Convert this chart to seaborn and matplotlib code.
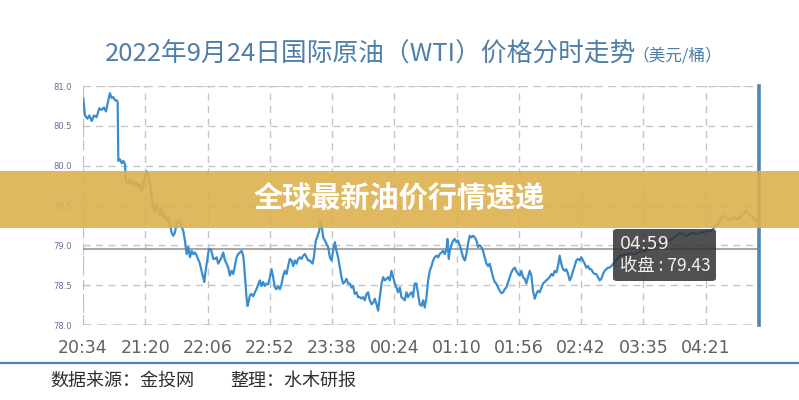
import numpy as np
import pandas as pd
import matplotlib
matplotlib.use("Agg")
import matplotlib.pyplot as plt
from matplotlib.patches import Rectangle, FancyBboxPatch
from matplotlib.lines import Line2D
import seaborn as sns

# ---------------- data (minutes since 20:34, price USD/bbl) ----------------
minutes = [0.2, 1.5, 3.2, 4.7, 6.4, 8.1, 10.1, 12.0, 13.8, 15.5, 17.0, 18.7, 19.9, 21.2, 22.4, 23.6,
           24.8, 25.6, 26.1, 27.3, 28.6, 29.8, 31.0, 31.8, 33.5, 34.7, 36.0, 37.2, 38.4, 39.6, 40.9,
           42.1, 43.3, 44.5, 45.8, 47.0, 48.2, 49.5, 50.7, 51.9, 53.2, 54.4, 55.6, 56.9, 58.1, 59.3,
           60.6, 61.8, 63.0, 64.2, 65.5, 66.7, 67.9, 69.2, 70.4, 71.6, 72.9, 74.1, 75.3, 76.6, 77.8,
           79.0, 80.3, 81.5, 82.7, 84.0, 86.4, 87.6, 88.8, 89.6, 90.6, 92.1, 93.0, 94.5, 95.5, 96.2,
           97.5, 98.7, 99.9, 101.2, 102.4, 103.6, 104.9, 106.1, 107.3, 108.5, 109.8, 111.0, 112.2,
           113.5, 114.7, 115.9, 117.2, 118.4, 119.1, 120.1, 120.8, 121.6, 122.6, 123.3, 124.5, 125.8,
           127.0, 128.2, 129.5, 130.7, 131.9, 133.1, 134.4, 135.6, 136.8, 138.1, 139.3, 140.5, 141.8,
           143.0, 144.2, 145.5, 146.7, 147.9, 149.2, 150.4, 151.6, 152.8, 154.1, 155.3, 156.5, 157.8,
           159.0, 160.2, 161.5, 162.7, 163.9, 165.2, 166.4, 167.6, 169.6, 170.6, 172.0, 173.0, 174.5,
           175.5, 176.5, 177.5, 178.7, 179.9, 181.1, 182.4, 183.6, 184.8, 186.1, 187.3, 188.5, 189.8,
           191.0, 192.2, 193.5, 194.7, 195.9, 197.2, 198.4, 199.6, 200.8, 202.1, 203.3, 204.5, 205.8,
           207.0, 208.2, 209.5, 210.7, 211.9, 213.2, 214.4, 215.6, 216.9, 218.1, 219.3, 220.6, 221.8,
           223.0, 224.2, 225.5, 226.7, 227.9, 229.2, 230.4, 231.6, 232.8, 234.1, 235.3, 236.5, 237.8,
           239.0, 240.2, 241.5, 242.7, 243.9, 245.1, 246.4, 247.6, 248.8, 250.1, 251.3, 252.5, 253.8,
           255.0, 256.2, 257.5, 258.7, 259.9, 261.2, 262.4, 263.6, 264.9, 266.1, 267.3, 268.6, 269.3,
           270.3, 271.0, 272.2, 273.5, 274.7, 275.9, 277.1, 278.4, 279.6, 280.8, 282.1, 283.3, 284.5,
           285.8, 287.0, 288.2, 289.5, 290.7, 291.9, 293.1, 294.4, 295.6, 296.8, 298.1, 299.3, 300.5,
           301.8, 303.0, 304.2, 305.4, 306.7, 307.9, 309.1, 310.4, 311.6, 312.8, 314.1, 315.3, 316.5,
           317.8, 319.0, 320.2, 321.5, 322.7, 323.9, 325.1, 326.4, 327.6, 328.8, 330.1, 331.3, 332.5,
           333.8, 335.0, 336.2, 337.5, 339.9, 342.4, 344.8, 346.1, 347.3, 348.5, 349.8, 351.0, 352.2,
           353.4, 354.7, 355.9, 357.1, 358.4, 359.6, 360.8, 362.1, 363.3, 364.5, 365.8, 367.0, 368.2,
           369.4, 370.7, 371.9, 373.1, 374.4, 375.6, 376.8, 378.1, 379.3, 380.5, 381.8, 383.0, 384.2,
           385.4, 386.7, 387.9, 389.1, 390.4, 392.8, 396.5, 400.2, 403.9, 407.6, 411.3, 415.0, 418.7,
           422.4, 426.1, 429.8, 433.5, 437.2, 440.8, 443.3, 445.8, 448.2, 450.7, 453.2, 455.6, 458.1,
           460.6, 464.2, 466.7, 467.9, 469.2, 471.6, 474.1, 476.5, 479.0, 481.4, 483.9, 486.3, 488.8,
           490.0, 492.5, 494.9, 497.4]

prices = [80.84, 80.63, 80.59, 80.63, 80.56, 80.63, 80.61, 80.72, 80.70, 80.73, 80.68, 80.82, 80.91,
          80.85, 80.86, 80.82, 80.82, 80.80, 80.06, 80.08, 80.03, 80.06, 80.02, 79.81, 79.77, 79.83,
          79.77, 79.81, 79.75, 79.79, 79.73, 79.77, 79.69, 79.75, 79.87, 79.93, 79.87, 79.77, 79.60,
          79.48, 79.41, 79.52, 79.43, 79.37, 79.46, 79.35, 79.37, 79.31, 79.35, 79.27, 79.16, 79.12,
          79.16, 79.27, 79.31, 79.29, 79.23, 79.18, 79.06, 78.89, 78.98, 78.85, 78.93, 78.89, 78.91,
          78.87, 78.77, 78.68, 78.60, 78.54, 78.68, 78.85, 78.95, 78.95, 78.89, 78.83, 78.83, 78.85,
          78.77, 78.81, 78.85, 78.91, 78.81, 78.77, 78.72, 78.62, 78.68, 78.64, 78.74, 78.85, 78.89,
          78.91, 78.93, 78.87, 78.74, 78.51, 78.35, 78.24, 78.31, 78.37, 78.39, 78.36, 78.41, 78.45,
          78.51, 78.56, 78.49, 78.54, 78.49, 78.52, 78.51, 78.60, 78.70, 78.60, 78.47, 78.45, 78.49,
          78.45, 78.51, 78.62, 78.68, 78.64, 78.74, 78.83, 78.81, 78.74, 78.81, 78.77, 78.83, 78.85,
          78.83, 78.87, 78.89, 78.85, 78.81, 78.81, 78.77, 78.85, 79.06, 79.10, 79.18, 79.31, 79.23,
          79.10, 79.06, 79.02, 78.98, 78.85, 78.81, 78.93, 79.04, 78.93, 78.85, 78.72, 78.60, 78.52,
          78.54, 78.58, 78.52, 78.52, 78.47, 78.49, 78.39, 78.41, 78.35, 78.35, 78.33, 78.35, 78.31,
          78.39, 78.41, 78.31, 78.26, 78.28, 78.33, 78.26, 78.18, 78.35, 78.52, 78.60, 78.56, 78.58,
          78.60, 78.56, 78.68, 78.60, 78.52, 78.47, 78.41, 78.47, 78.35, 78.33, 78.31, 78.41, 78.35,
          78.39, 78.41, 78.35, 78.52, 78.52, 78.39, 78.26, 78.24, 78.31, 78.22, 78.35, 78.56, 78.68,
          78.74, 78.81, 78.85, 78.87, 78.85, 78.89, 78.91, 78.93, 78.89, 78.95, 79.08, 78.83, 78.93,
          79.00, 79.06, 79.08, 79.04, 79.06, 79.00, 78.93, 78.85, 78.81, 78.89, 79.02, 79.12, 79.10,
          79.12, 79.10, 79.06, 78.98, 79.00, 78.98, 78.93, 78.85, 78.77, 78.74, 78.77, 78.68, 78.60,
          78.54, 78.52, 78.47, 78.43, 78.40, 78.41, 78.45, 78.47, 78.54, 78.60, 78.66, 78.70, 78.72,
          78.68, 78.64, 78.62, 78.68, 78.60, 78.58, 78.52, 78.60, 78.68, 78.62, 78.43, 78.33, 78.39,
          78.43, 78.41, 78.52, 78.56, 78.60, 78.64, 78.62, 78.68, 78.66, 78.74, 78.87, 78.77, 78.70,
          78.68, 78.70, 78.64, 78.56, 78.60, 78.68, 78.74, 78.81, 78.83, 78.81, 78.85, 78.81, 78.77,
          78.72, 78.74, 78.70, 78.70, 78.66, 78.64, 78.64, 78.60, 78.56, 78.58, 78.64, 78.68, 78.70,
          78.72, 78.72, 78.74, 78.79, 78.87, 78.88, 78.90, 78.89, 78.92, 78.93, 78.95, 78.98, 79.02,
          79.06, 79.06, 79.10, 79.16, 79.14, 79.12, 79.14, 79.16, 79.14, 79.16, 79.16, 79.18, 79.18,
          79.23, 79.27, 79.25, 79.35, 79.37, 79.33, 79.32, 79.35, 79.33, 79.37, 79.41, 79.44, 79.39,
          79.35, 79.31]

tick_minutes = [0, 46, 92, 138, 184, 230, 276, 322, 368, 414, 460]
tick_labels = ["20:34", "21:20", "22:06", "22:52", "23:38", "00:24", "01:10", "01:56", "02:42", "03:35", "04:21"]
y_ticks = [78.0, 78.5, 79.0, 79.5, 80.0, 80.5, 81.0]
prev_close = 78.95
x_end = 499.5

title_main = "2022年9月24日国际原油（WTI）价格分时走势"
title_unit = "（美元/桶）"
banner_text = "全球最新油价行情速递"
tip_time = "04:59"
tip_value = "收盘 : 79.43"
source_left = "数据来源：金投网"
source_right = "整理：水木研报"

# ---------------- style ----------------
sns.set_theme(style="white")
plt.rcParams['font.family'] = ['Noto Sans CJK SC', 'DejaVu Sans']
plt.rcParams['axes.unicode_minus'] = False

W, H = 799, 400
fig = plt.figure(figsize=(W / 100, H / 100), dpi=100)
fig.patch.set_facecolor("white")

ax = fig.add_axes([83 / W, 1 - 325 / H, (759 - 83) / W, (325 - 86) / H])
ax.set_facecolor("white")

df = pd.DataFrame({"minute": minutes, "price": prices})
sns.lineplot(data=df, x="minute", y="price", ax=ax, color="#3a8dcf", linewidth=1.6, zorder=3)

ax.set_xlim(0, x_end)
ax.set_ylim(78.0, 81.0)
ax.set_xticks(tick_minutes)
ax.set_xticklabels(tick_labels, fontsize=12.5, color="#606060", family=["DejaVu Sans"])
ax.set_yticks(y_ticks)
ax.set_yticklabels([f"{v:.1f}" for v in y_ticks], fontsize=6, color="#6b6b9c", family=["DejaVu Sans"])
ax.tick_params(axis="x", length=0, pad=10)
ax.tick_params(axis="y", length=0, pad=8)
ax.set_xlabel("")
ax.set_ylabel("")

# dashed grid incl. frame
ax.grid(True, which="major", axis="both", color="#c4c4c4", linestyle=(0, (5, 4)), linewidth=1.0, zorder=0)
for s in ["top", "bottom", "left"]:
    ax.spines[s].set_visible(False)
ax.axhline(81.0, color="#c4c4c4", linestyle=(0, (5, 4)), linewidth=1.2, zorder=1)
ax.axhline(78.0, color="#c4c4c4", linestyle=(0, (5, 4)), linewidth=1.2, zorder=1)
ax.axvline(0, color="#bdbdbd", linestyle=(0, (5, 4)), linewidth=1.4, zorder=1)
ax.spines["right"].set_visible(True)
ax.spines["right"].set_color("#4f86b5")
ax.spines["right"].set_linewidth(2.6)

# previous close reference line
ax.axhline(prev_close, color="#a8a8a8", linewidth=1.5, zorder=2)

# ---------------- title ----------------
fig.text(105 / W, 1 - 54 / H, title_main, fontsize=18.5, color="#4e7fa8", ha="left", va="center")
fig.text(632 / W, 1 - 56 / H, title_unit, fontsize=12, color="#4e7fa8", ha="left", va="center")

# ---------------- banner ----------------
fig.add_artist(Rectangle((0, 1 - 228 / H), 1, (228 - 171) / H, transform=fig.transFigure,
                         facecolor="#dcb14d", alpha=0.9, edgecolor="none", zorder=5))
fig.text(0.5, 1 - 199 / H, banner_text, fontsize=21, fontweight="bold", color="white",
         ha="center", va="center", zorder=6)

# ---------------- tooltip ----------------
fig.add_artist(FancyBboxPatch((613 / W, 1 - 281 / H), (716 - 613) / W, (281 - 229) / H,
                              boxstyle="round,pad=0,rounding_size=0.006", transform=fig.transFigure,
                              facecolor="#333333", alpha=0.86, edgecolor="none", zorder=5))
fig.text(620 / W, 1 - 244 / H, tip_time, fontsize=12.5, color="#f2f2f2", ha="left", va="center",
         family=["DejaVu Sans"], zorder=6)
fig.text(620 / W, 1 - 266 / H, tip_value, fontsize=12.5, color="#f2f2f2", ha="left", va="center", zorder=6)

# ---------------- footer ----------------
fig.add_artist(Line2D([0, 1], [1 - 363 / H, 1 - 363 / H], transform=fig.transFigure,
                      color="#4a83b5", linewidth=1.6))
fig.text(50 / W, 1 - 381 / H, source_left, fontsize=13, color="#2f2f2f", ha="left", va="center")
fig.text(230 / W, 1 - 381 / H, source_right, fontsize=13, color="#2f2f2f", ha="left", va="center")

fig.savefig("out.png", dpi=100, facecolor="white")
